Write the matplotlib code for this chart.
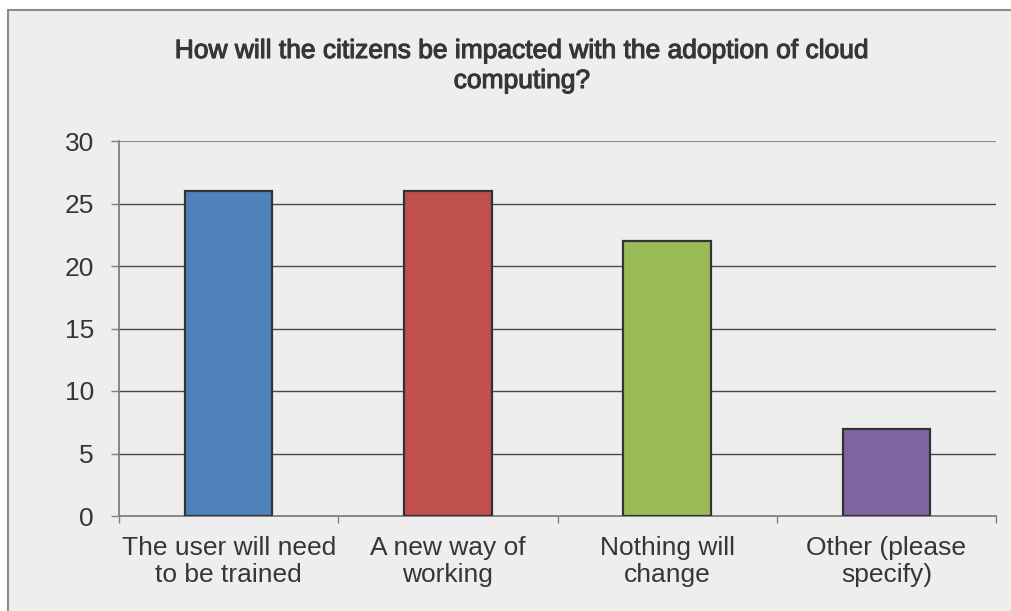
import matplotlib.pyplot as plt
import matplotlib.patheffects as pe
from matplotlib.patches import Rectangle

# survey answers and counts
categories = ['The user will need\nto be trained', 'A new way of\nworking',
              'Nothing will\nchange', 'Other (please\nspecify)']
counts = [26, 26, 22, 7]
colours = ['#4F81BD', '#C0504D', '#9BBB59', '#8064A2']
yticks = [0, 5, 10, 15, 20, 25, 30]
title_lines = ['How will the citizens be impacted with the adoption of cloud',
               'computing?']

bg = '#EEEEEE'
txt = '#363636'
plt.rcParams['font.family'] = ['Liberation Sans', 'DejaVu Sans']

fig = plt.figure(figsize=(10.11, 6.11), dpi=100, facecolor='white')
# chart area frame, runs off the right and bottom edges
fig.patches.append(Rectangle((8/1011, -10/611), 1020/1011, 611/611, transform=fig.transFigure,
                             facecolor=bg, edgecolor='#8C8C8C', linewidth=1.5, zorder=-10))

ax = fig.add_axes([119/1011, 1 - 516/611, 877/1011, 375/611])
ax.set_facecolor('none')

x = range(len(categories))
ax.bar(x, counts, width=0.4, color=colours, edgecolor='#333333', linewidth=1.6, zorder=3)

ax.set_xlim(-0.5, len(categories) - 0.5)
ax.set_ylim(0, 30)
ax.set_yticks(yticks)
ax.set_yticklabels([str(v) for v in yticks])
ax.set_xticks(list(x))
ax.set_xticklabels(categories, fontsize=19, color=txt, linespacing=1.15)
ax.tick_params(axis='x', length=0, pad=14.5)
ax.tick_params(axis='y', labelsize=19, labelcolor=txt, length=6, width=1,
               color='#7F7F7F', pad=12)

# boundary ticks between categories
ax.set_xticks([i - 0.5 for i in range(len(categories) + 1)], minor=True)
ax.tick_params(axis='x', which='minor', length=5, width=1, color='#7F7F7F', direction='out')

# inner gridlines dark, top line grey
for v in yticks[1:-1]:
    ax.axhline(v, color='#4A4A4A', linewidth=1, zorder=1)
ax.axhline(yticks[-1], color='#8C8C8C', linewidth=1.5, zorder=1)

for s in ['top', 'right']:
    ax.spines[s].set_visible(False)
ax.spines['left'].set_color('#7F7F7F')
ax.spines['bottom'].set_color('#7F7F7F')
ax.spines['left'].set_linewidth(1.3)
ax.spines['bottom'].set_linewidth(1.3)

# two-line title, slightly heavier strokes, centred on the frame
for line, base in zip(title_lines, [58, 88]):
    fig.text(522/1011, 1 - base/611, line, ha='center', va='baseline', fontsize=19,
             color=txt, path_effects=[pe.withStroke(linewidth=0.8, foreground=txt)])

fig.savefig('out.png', dpi=100, facecolor=fig.get_facecolor())
